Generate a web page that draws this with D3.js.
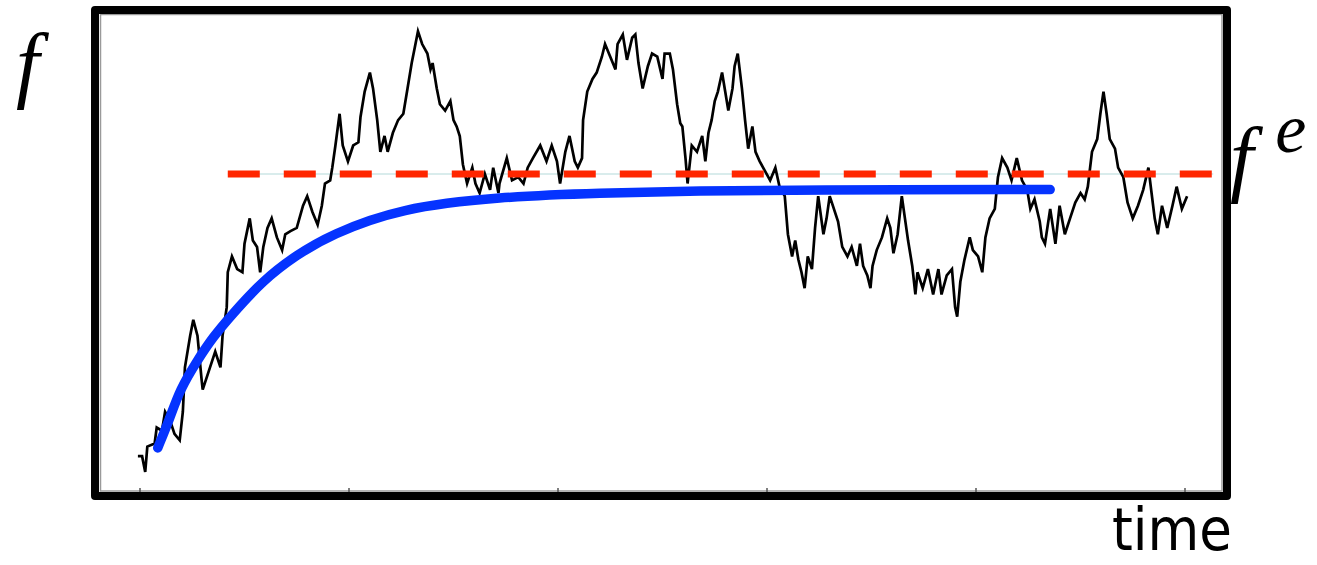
<!DOCTYPE html>
<html>
<head>
<meta charset="utf-8">
<script src="https://cdn.jsdelivr.net/npm/d3@7"></script>
<style>
  body { margin: 0; background: #fff; }
  svg { display: block; }
</style>
</head>
<body>
<svg id="chart" width="1317" height="565"></svg>
<script>
// random walk f(t)
var walkTime = [-0.2, 0.2, 0.5, 0.7, 1.4, 1.6, 2.1, 2.4, 2.9, 3.3, 3.8, 4.1, 4.3, 4.8, 5.1, 5.5, 5.9, 6.0, 6.7, 7.2,
    7.7, 7.9, 8.3, 8.4, 8.8, 9.3, 9.8, 10.0, 10.5, 10.8, 11.2, 11.5, 11.8, 12.2, 12.6, 13.1, 13.6, 13.9, 14.4, 15.0,
    15.6, 16.0, 16.5, 17.0, 17.4, 17.7, 18.2, 18.4, 18.7, 19.1, 19.4, 19.9, 20.4, 20.9, 21.1, 21.5, 22.0, 22.3, 22.7, 23.0,
    23.4, 23.7, 24.2, 24.7, 25.2, 25.6, 26.0, 26.3, 26.6, 27.0, 27.5, 27.8, 28.0, 28.4, 28.7, 29.2, 29.7, 30.0, 30.3, 30.6,
    30.9, 31.3, 31.8, 32.1, 32.5, 33.0, 33.5, 33.8, 34.3, 34.4, 35.1, 35.6, 36.2, 36.7, 37.1, 37.6, 38.3, 38.9, 39.4, 39.9,
    40.2, 40.7, 41.1, 41.6, 41.9, 42.3, 42.4, 42.8, 43.3, 43.7, 44.2, 44.5, 45.0, 45.5, 45.7, 46.2, 46.6, 47.1, 47.4, 47.7,
    48.1, 48.6, 49.0, 49.5, 50.0, 50.2, 50.7, 51.0, 51.4, 51.7, 51.9, 52.2, 52.4, 52.8, 53.3, 53.8, 54.1, 54.4, 54.7, 55.0,
    55.3, 55.7, 56.0, 56.3, 56.7, 56.9, 57.2, 57.6, 57.9, 58.2, 58.6, 58.9, 59.3, 59.8, 60.3, 60.8, 61.2, 61.7, 62.0, 62.4,
    62.7, 63.0, 63.3, 63.6, 63.9, 64.3, 64.6, 64.9, 65.4, 65.7, 66.0, 66.3, 66.8, 67.2, 67.7, 68.1, 68.6, 68.9, 69.2, 69.6,
    69.9, 70.1, 70.5, 71.0, 71.5, 71.8, 72.1, 72.5, 72.9, 73.2, 73.5, 73.9, 74.2, 74.4, 74.9, 75.4, 75.9, 76.4, 76.7, 77.2,
    77.7, 78.0, 78.2, 78.5, 78.9, 79.4, 79.7, 80.2, 80.6, 80.9, 81.3, 81.8, 82.1, 82.5, 83.0, 83.4, 83.9, 84.4, 84.9, 85.2,
    85.6, 86.1, 86.3, 86.6, 87.1, 87.6, 88.0, 88.5, 89.0, 89.5, 90.0, 90.4, 90.7, 91.1, 91.6, 91.9, 92.2, 92.5, 92.8, 93.3,
    93.6, 94.1, 94.5, 95.0, 95.5, 96.0, 96.5, 96.8, 97.1, 97.4, 97.8, 98.3, 98.8, 99.2, 99.7, 100.2];
var walkF = [11, 11, 6, 14, 15, 20, 19, 25, 22, 18, 16, 25, 39, 49, 54, 49, 35, 32, 39, 44,
    39, 49, 58, 69, 74, 70, 69, 78, 86, 79, 77, 69, 77, 83, 86, 80, 76, 81, 82, 83,
    90, 93, 88, 84, 90, 97, 98, 102, 109, 119, 109, 104, 109, 110, 118, 126, 132, 127, 117, 107,
    112, 107, 113, 117, 119, 127, 135, 140, 145, 141, 138, 133, 135, 127, 122, 120, 123, 117, 115, 112,
    103, 97, 102, 97, 94, 100, 95, 102, 94, 97, 105, 98, 99, 97, 102, 105, 109, 104, 109, 104,
    97, 107, 112, 104, 102, 105, 117, 126, 130, 132, 137, 141, 137, 133, 141, 144, 136, 143, 144, 135,
    127, 134, 138, 137, 130, 138, 138, 133, 122, 116, 115, 105, 97, 109, 107, 112, 104, 113, 117, 123,
    126, 132, 126, 120, 127, 134, 138, 127, 117, 108, 115, 107, 104, 101, 98, 102, 96, 93, 81, 74,
    79, 73, 69, 64, 74, 70, 83, 93, 81, 86, 93, 90, 85, 77, 74, 77, 71, 78, 71, 68,
    64, 71, 76, 80, 86, 83, 75, 81, 93, 86, 79, 71, 62, 69, 64, 70, 62, 70, 62, 68,
    70, 58, 55, 66, 73, 80, 76, 74, 69, 80, 86, 89, 99, 105, 102, 98, 105, 98, 95, 89,
    92, 85, 80, 78, 89, 78, 90, 81, 86, 91, 94, 92, 96, 107, 111, 119, 126, 119, 111, 108,
    102, 99, 91, 86, 90, 95, 102, 94, 86, 81, 90, 83, 90, 96, 89, 93];

// smooth relaxation curve
var relaxTime = [1.7, 2.9, 3.8, 5.5, 7.0, 8.6, 11.8, 15.0, 18.2, 24.9, 34.4, 44.0, 53.6, 63.2, 87.1];
var relaxF = [13.6, 23.3, 31.9, 41.3, 48.6, 54.9, 66.6, 74.5, 80.8, 89.3, 92.8, 94.0, 94.7, 95.0, 95.1];

// equilibrium level
var equilibriumF = 100;
var equilibriumSpan = [8.4, 102.7];

var tickValues = [0, 20, 40, 60, 80, 100];

var svg = d3.select('#chart');

var x = d3.scaleLinear().domain([0, 100]).range([140, 1185]);
var y = d3.scaleLinear().domain([0, 100]).range([491, 174]);

// inner plot box (thin grey)
svg.append('rect')
    .attr('x', 100.5).attr('y', 14.5)
    .attr('width', 1121.5).attr('height', 476.5)
    .attr('fill', 'none')
    .attr('stroke', '#9a9a9a')
    .attr('stroke-width', 1.5);

// ticks on the bottom axis
svg.append('g')
    .selectAll('line')
    .data(tickValues)
    .enter().append('line')
    .attr('x1', function (d) { return x(d); })
    .attr('x2', function (d) { return x(d); })
    .attr('y1', 488)
    .attr('y2', 492)
    .attr('stroke', '#555')
    .attr('stroke-width', 1.5);

// thin light line under the dashes
svg.append('line')
    .attr('x1', x(equilibriumSpan[0])).attr('x2', x(equilibriumSpan[1]))
    .attr('y1', y(equilibriumF)).attr('y2', y(equilibriumF))
    .attr('stroke', '#d9ecec')
    .attr('stroke-width', 2);

var walk = walkTime.map(function (t, i) { return [t, walkF[i]]; });
var relax = relaxTime.map(function (t, i) { return [t, relaxF[i]]; });

var line = d3.line()
    .x(function (d) { return x(d[0]); })
    .y(function (d) { return y(d[1]); });

svg.append('path')
    .datum(walk)
    .attr('d', line)
    .attr('fill', 'none')
    .attr('stroke', '#000')
    .attr('stroke-width', 2.7)
    .attr('stroke-linejoin', 'miter');

svg.append('line')
    .attr('x1', x(equilibriumSpan[0])).attr('x2', x(equilibriumSpan[1]))
    .attr('y1', y(equilibriumF)).attr('y2', y(equilibriumF))
    .attr('stroke', '#ff2600')
    .attr('stroke-width', 7)
    .attr('stroke-dasharray', '32,24');

svg.append('path')
    .datum(relax)
    .attr('d', line.curve(d3.curveBasis))
    .attr('fill', 'none')
    .attr('stroke', '#0533ff')
    .attr('stroke-width', 9.5)
    .attr('stroke-linecap', 'round');

// outer frame
svg.append('rect')
    .attr('x', 95).attr('y', 10)
    .attr('width', 1132).attr('height', 486)
    .attr('fill', 'none')
    .attr('stroke', '#000')
    .attr('stroke-width', 8)
    .attr('stroke-linejoin', 'round');

// labels
svg.append('text')
    .attr('x', 16).attr('y', 92)
    .style('font-family', '"Liberation Serif", serif')
    .style('font-style', 'italic')
    .style('font-size', '84px')
    .text('f');

var fe = svg.append('text')
    .attr('x', 1230).attr('y', 186)
    .style('font-family', '"Liberation Serif", serif')
    .style('font-style', 'italic')
    .style('font-size', '84px');
fe.append('tspan').text('f');
fe.append('tspan')
    .attr('dx', 22).attr('dy', -34)
    .style('font-size', '70px')
    .text('e');

svg.append('text')
    .attr('x', 1112).attr('y', 550)
    .attr('textLength', 120)
    .attr('lengthAdjust', 'spacingAndGlyphs')
    .style('font-family', '"DejaVu Sans", sans-serif')
    .style('font-size', '58px')
    .text('time');
</script>
</body>
</html>
